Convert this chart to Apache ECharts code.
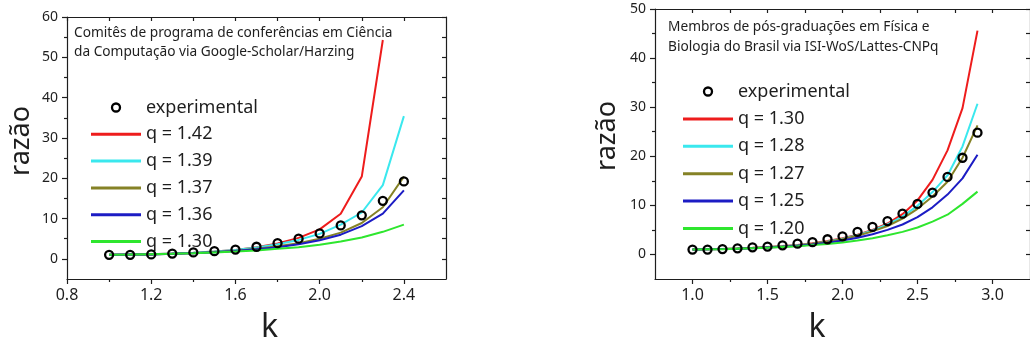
<!DOCTYPE html>
<html>
<head>
<meta charset="utf-8">
<script src="https://cdn.jsdelivr.net/npm/echarts@6/dist/echarts.min.js"></script>
<style>
  html, body { margin: 0; padding: 0; background: #fff; }
  #chart { width: 1030px; height: 349px; }
</style>
</head>
<body>
<div id="chart"></div>
<script>
// painel esquerdo: comitês de programa (Google-Scholar/Harzing)
const kLeft = [1.0, 1.1, 1.2, 1.3, 1.4, 1.5, 1.6, 1.7, 1.8, 1.9, 2.0, 2.1, 2.2, 2.3, 2.4];
const expLeft = [1.0, 1.0, 1.1, 1.3, 1.6, 1.9, 2.3, 3.0, 3.9, 5.0, 6.3, 8.3, 10.8, 14.4, 19.2];
const q142 = [1.0, 1.05, 1.15, 1.3, 1.5, 1.8, 2.2, 2.9, 3.8, 5.2, 7.3, 11.2, 20.4, 54.3];
const q139 = [1.0, 1.05, 1.15, 1.3, 1.5, 1.8, 2.2, 2.8, 3.6, 4.7, 6.2, 8.5, 11.5, 18.3, 35.4];
const q137 = [1.0, 1.05, 1.1, 1.25, 1.4, 1.7, 2.0, 2.5, 3.1, 3.9, 5.0, 6.5, 8.9, 12.8, 20.4];
const q136 = [1.0, 1.05, 1.1, 1.25, 1.4, 1.65, 1.95, 2.4, 2.9, 3.6, 4.6, 6.0, 8.1, 11.2, 17.0];
const q130L = [1.0, 1.05, 1.15, 1.25, 1.4, 1.6, 1.8, 2.1, 2.5, 2.9, 3.5, 4.3, 5.3, 6.7, 8.5];
const xTicksLeft = [0.8, 1.2, 1.6, 2.0, 2.4];
const xMinorLeft = [1.0, 1.4, 1.8, 2.2];
const yTicksLeft = [0, 10, 20, 30, 40, 50, 60];
const yMinorLeft = [5, 15, 25, 35, 45, 55];

// painel direito: pós-graduações Física e Biologia (ISI-WoS/Lattes-CNPq)
const kRight = [1.0, 1.1, 1.2, 1.3, 1.4, 1.5, 1.6, 1.7, 1.8, 1.9, 2.0, 2.1, 2.2, 2.3, 2.4, 2.5, 2.6, 2.7, 2.8, 2.9];
const expRight = [1.0, 1.0, 1.1, 1.25, 1.45, 1.6, 1.85, 2.2, 2.5, 3.1, 3.7, 4.6, 5.6, 6.8, 8.3, 10.3, 12.6, 15.8, 19.7, 24.8];
const q130R = [1.0, 1.05, 1.12, 1.22, 1.35, 1.5, 1.7, 1.95, 2.3, 2.75, 3.3, 4.0, 5.0, 6.3, 8.2, 11.0, 15.2, 21.2, 29.8, 45.6];
const q128 = [1.0, 1.05, 1.1, 1.2, 1.3, 1.45, 1.65, 1.9, 2.2, 2.65, 3.2, 3.9, 4.9, 6.1, 7.7, 9.9, 12.7, 16.1, 22.0, 30.7];
const q127 = [1.0, 1.05, 1.1, 1.2, 1.3, 1.45, 1.6, 1.85, 2.2, 2.6, 3.1, 3.8, 4.7, 5.8, 7.3, 9.3, 11.8, 14.8, 19.7, 26.3];
const q125 = [1.0, 1.05, 1.1, 1.15, 1.25, 1.4, 1.55, 1.75, 2.05, 2.4, 2.85, 3.4, 4.1, 5.0, 6.1, 7.6, 9.6, 12.2, 15.5, 20.3];
const q120 = [1.0, 1.04, 1.08, 1.15, 1.25, 1.35, 1.5, 1.65, 1.9, 2.15, 2.45, 2.85, 3.3, 3.9, 4.6, 5.5, 6.7, 8.1, 10.3, 12.8];
const xTicksRight = [1.0, 1.5, 2.0, 2.5, 3.0];
const xMinorRight = [1.25, 1.75, 2.25, 2.75];
const yTicksRight = [0, 10, 20, 30, 40, 50];
const yMinorRight = [5, 15, 25, 35, 45];

const ink = '#1e1e1e';
const font = 'Noto Sans';

const pairs = (xs, ys) => ys.map((v, i) => [xs[i], v]);

const xAxes = [];
const yAxes = [];

// moldura completa: eixo principal + minor + bordas com ticks para dentro
function frame(grid, xr, yr, xMaj, xMin, yMaj, yMin, xFont, yFont, xName, yName) {
  const base = { gridIndex: grid, type: 'value', splitLine: { show: false } };
  const line = { show: true, onZero: false, lineStyle: { color: ink, width: 1.2 } };
  const noLine = { show: false, onZero: false };
  const xi = xAxes.length;
  xAxes.push(
    Object.assign({}, base, {
      min: xr[0], max: xr[1], position: 'bottom',
      axisLine: line,
      axisTick: { customValues: xMaj, length: 5, lineStyle: { color: ink, width: 1.2 } },
      axisLabel: { customValues: xMaj, formatter: v => v.toFixed(1), color: ink, fontFamily: font, fontSize: xFont, margin: 8 },
      name: xName.text, nameLocation: 'middle', nameGap: xName.gap,
      nameTextStyle: { fontFamily: font, fontSize: 32, color: ink, padding: xName.pad }
    }),
    Object.assign({}, base, {
      min: xr[0], max: xr[1], position: 'bottom',
      axisLine: noLine,
      axisTick: { customValues: xMin, length: 3, lineStyle: { color: ink, width: 1.2 } },
      axisLabel: { show: false }
    }),
    Object.assign({}, base, {
      min: xr[0], max: xr[1], position: 'top',
      axisLine: line,
      axisTick: { inside: true, customValues: xMaj.concat(xMin), length: 4, lineStyle: { color: ink, width: 1.2 } },
      axisLabel: { show: false }
    })
  );
  const yi = yAxes.length;
  yAxes.push(
    Object.assign({}, base, {
      min: yr[0], max: yr[1], position: 'left',
      axisLine: line,
      axisTick: { customValues: yMaj, length: 5, lineStyle: { color: ink, width: 1.2 } },
      axisLabel: { customValues: yMaj, color: ink, fontFamily: font, fontSize: yFont, margin: 9 },
      name: yName.text, nameLocation: 'middle', nameRotate: 90, nameGap: yName.gap,
      nameTextStyle: { fontFamily: font, fontSize: 27, color: ink, padding: yName.pad }
    }),
    Object.assign({}, base, {
      min: yr[0], max: yr[1], position: 'left',
      axisLine: noLine,
      axisTick: { customValues: yMin, length: 3, lineStyle: { color: ink, width: 1.2 } },
      axisLabel: { show: false }
    }),
    Object.assign({}, base, {
      min: yr[0], max: yr[1], position: 'right',
      axisLine: line,
      axisTick: { inside: true, customValues: yMaj.concat(yMin), length: 4, lineStyle: { color: ink, width: 1.2 } },
      axisLabel: { show: false }
    })
  );
  return [xi, yi];
}

const [lx, ly] = frame(0, [0.8, 2.6], [-5, 60], xTicksLeft, xMinorLeft, yTicksLeft, yMinorLeft, 16, 14,
  { text: 'k', gap: 33, pad: [0, 0, 0, 26] }, { text: 'razão', gap: 32, pad: [0, 0, 0, 14] });
const [rx, ry] = frame(1, [0.75, 3.25], [-5, 50], xTicksRight, xMinorRight, yTicksRight, yMinorRight, 16, 14,
  { text: 'k', gap: 33, pad: [0, 51, 0, 0] }, { text: 'razão', gap: 34, pad: [0, 0, 0, 16] });

function curve(name, xi, yi, xs, ys, color) {
  return {
    name, type: 'line', xAxisIndex: xi, yAxisIndex: yi,
    data: pairs(xs, ys), symbol: 'none', showSymbol: false,
    lineStyle: { color, width: 2 }, itemStyle: { color }, z: 2
  };
}
function points(name, xi, yi, xs, ys) {
  return {
    name, type: 'scatter', xAxisIndex: xi, yAxisIndex: yi,
    data: pairs(xs, ys), symbol: 'circle', symbolSize: 8,
    itemStyle: { color: 'rgba(0,0,0,0)', borderColor: '#000', borderWidth: 2.3, opacity: 1 }, z: 5
  };
}

const red = '#ee1c1c', cyan = '#3ae8ee', olive = '#858226', blue = '#1c1cc4', green = '#2ee62e';

const legendText = { fontFamily: font, fontSize: 18, color: ink, lineHeight: 20 };
const lineIcon = 'path://M0,0L50,0L50,3L0,3Z';
const ringStyle = { color: 'rgba(0,0,0,0)', borderColor: '#000', borderWidth: 2.3 };

function legendItems(prefix, names) {
  return [{ name: prefix + '|experimental', icon: 'circle', itemStyle: ringStyle }]
    .concat(names.map(n => ({ name: prefix + '|' + n, icon: lineIcon })));
}

const option = {
  backgroundColor: '#fff',
  animation: false,
  grid: [
    { left: 67, top: 17, width: 379, height: 281 },
    { left: 655, top: 9, width: 381, height: 282 }
  ],
  title: [
    {
      text: 'Comitês de programa de conferências em Ciência\nda Computação via Google-Scholar/Harzing',
      left: 74, top: 24, padding: 0,
      textStyle: { fontFamily: font, fontSize: 13.7, fontWeight: 'normal', color: ink, lineHeight: 19 }
    },
    {
      text: 'Membros de pós-graduações em Física e\nBiologia do Brasil via ISI-WoS/Lattes-CNPq',
      left: 668, top: 17, padding: 0,
      textStyle: { fontFamily: font, fontSize: 13.7, fontWeight: 'normal', color: ink, lineHeight: 20 }
    }
  ],
  legend: [
    {
      data: legendItems('A', ['q = 1.42', 'q = 1.39', 'q = 1.37', 'q = 1.36', 'q = 1.30']),
      orient: 'vertical', left: 91, top: 97.5, padding: 0, itemGap: 6.8,
      itemWidth: 50, itemHeight: 8, selectedMode: false,
      formatter: n => n.split('|')[1], textStyle: legendText
    },
    {
      data: legendItems('B', ['q = 1.30', 'q = 1.28', 'q = 1.27', 'q = 1.25', 'q = 1.20']),
      orient: 'vertical', left: 683, top: 81.5, padding: 0, itemGap: 7.4,
      itemWidth: 50, itemHeight: 8, selectedMode: false,
      formatter: n => n.split('|')[1], textStyle: legendText
    }
  ],
  xAxis: xAxes,
  yAxis: yAxes,
  series: [
    curve('A|q = 1.42', lx, ly, kLeft, q142, red),
    curve('A|q = 1.39', lx, ly, kLeft, q139, cyan),
    curve('A|q = 1.37', lx, ly, kLeft, q137, olive),
    curve('A|q = 1.36', lx, ly, kLeft, q136, blue),
    curve('A|q = 1.30', lx, ly, kLeft, q130L, green),
    points('A|experimental', lx, ly, kLeft, expLeft),
    curve('B|q = 1.30', rx, ry, kRight, q130R, red),
    curve('B|q = 1.28', rx, ry, kRight, q128, cyan),
    curve('B|q = 1.27', rx, ry, kRight, q127, olive),
    curve('B|q = 1.25', rx, ry, kRight, q125, blue),
    curve('B|q = 1.20', rx, ry, kRight, q120, green),
    points('B|experimental', rx, ry, kRight, expRight)
  ]
};

const myChart = echarts.init(document.getElementById('chart'));
myChart.setOption(option);
window.addEventListener('resize', () => {
  myChart?.resize();
});
</script>
</body>
</html>
